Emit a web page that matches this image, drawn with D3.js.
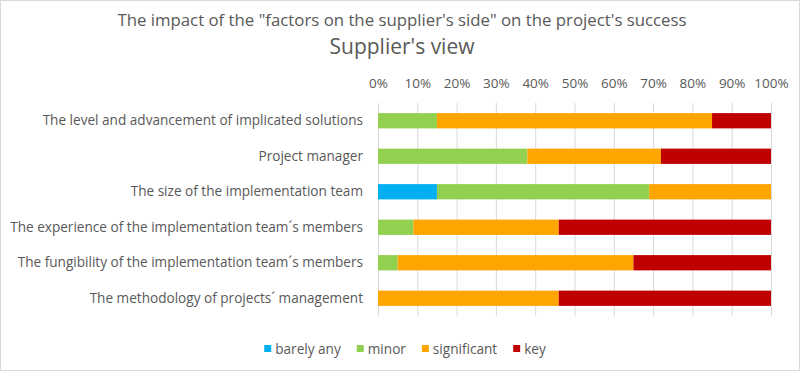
<!DOCTYPE html>
<html>
<head>
<meta charset="utf-8">
<script src="https://cdn.jsdelivr.net/npm/d3@7"></script>
<style>
  body { margin: 0; background: #fff; }
  svg text { font-family: "Open Sans", "Noto Sans", sans-serif; fill: #595959; }
</style>
</head>
<body>
<script>
// chart data
const categories = [
    "The level and advancement of implicated solutions",
    "Project manager",
    "The size of the implementation team",
    "The experience of the implementation team\u00b4s members",
    "The fungibility of the implementation team\u00b4s members",
    "The methodology of projects\u00b4 management"
];
const seriesNames = ["barely any", "minor", "significant", "key"];
const barelyAny   = [0, 0, 15, 0, 0, 0];
const minor       = [15, 38, 54, 9, 5, 0];
const significant = [70, 34, 31, 37, 60, 46];
const key         = [15, 28, 0, 54, 35, 54];
const tickValues  = [0, 10, 20, 30, 40, 50, 60, 70, 80, 90, 100];
const colors = ["#00b0f0", "#92d050", "#ffa500", "#c00000"];

const width = 800, height = 371;
const margin = { top: 103, right: 29, bottom: 55, left: 378 };

const svg = d3.select("body").append("svg")
    .attr("width", width)
    .attr("height", height);

// outer border
svg.append("rect")
    .attr("x", 0.5).attr("y", 0.5)
    .attr("width", width - 1).attr("height", height - 1)
    .attr("fill", "#fff").attr("stroke", "#d9d9d9");

// titles
svg.append("text")
    .attr("x", 402).attr("y", 26)
    .attr("text-anchor", "middle")
    .attr("font-size", 16.8)
    .text("The impact of the \"factors on the supplier's side\" on the project's success");
svg.append("text")
    .attr("x", 402).attr("y", 54)
    .attr("text-anchor", "middle")
    .attr("font-size", 21)
    .text("Supplier's view");

const x = d3.scaleLinear().domain([0, 100]).range([margin.left, width - margin.right]);
const y = d3.scaleBand().domain(categories)
    .range([margin.top, height - margin.bottom])
    .paddingInner(0.57).paddingOuter(0.285);

// gridlines
svg.append("g")
    .selectAll("line")
    .data(tickValues)
    .join("line")
    .attr("x1", d => x(d) + 0.5).attr("x2", d => x(d) + 0.5)
    .attr("y1", margin.top).attr("y2", height - margin.bottom)
    .attr("stroke", "#d9d9d9");

// top axis labels
const xAxis = svg.append("g")
    .attr("transform", `translate(0,${margin.top - 12})`)
    .call(d3.axisTop(x).tickValues(tickValues).tickFormat(d => d + "%").tickSize(0));
xAxis.select(".domain").remove();
xAxis.selectAll("text")
    .attr("font-size", 13.5)
    .attr("fill", "#595959")
    .style("font-family", "'Open Sans', sans-serif");

// category labels
const yAxis = svg.append("g")
    .attr("transform", `translate(${margin.left - 12},0)`)
    .call(d3.axisLeft(y).tickSize(0));
yAxis.select(".domain").remove();
yAxis.selectAll("text")
    .attr("font-size", 13.6)
    .attr("fill", "#595959")
    .style("font-family", "'Open Sans', sans-serif");

// stacked bars
const rows = categories.map((c, i) => ({
    category: c,
    "barely any": barelyAny[i],
    "minor": minor[i],
    "significant": significant[i],
    "key": key[i]
}));
const stacked = d3.stack().keys(seriesNames)(rows);

svg.append("g")
    .selectAll("g")
    .data(stacked)
    .join("g")
    .attr("fill", (d, i) => colors[i])
    .selectAll("rect")
    .data(d => d)
    .join("rect")
    .attr("x", d => x(d[0]))
    .attr("y", d => y(d.data.category))
    .attr("width", d => x(d[1]) - x(d[0]))
    .attr("height", y.bandwidth());

// legend
const legend = svg.append("g").attr("transform", `translate(0,${height - 22})`);
const items = legend.selectAll("g")
    .data(seriesNames)
    .join("g");
items.append("rect")
    .attr("y", -4).attr("width", 7).attr("height", 7)
    .attr("fill", (d, i) => colors[i]);
items.append("text")
    .attr("x", 11).attr("dy", "0.35em")
    .attr("font-size", 13.6)
    .text(d => d);

let pos = 0;
const widths = [];
items.each(function () {
    widths.push(this.querySelector("text").getComputedTextLength() + 11);
});
const gap = 16;
const total = d3.sum(widths) + gap * (widths.length - 1);
pos = 405 - total / 2;
items.attr("transform", (d, i) => {
    const t = `translate(${pos},0)`;
    pos += widths[i] + gap;
    return t;
});
</script>
</body>
</html>
